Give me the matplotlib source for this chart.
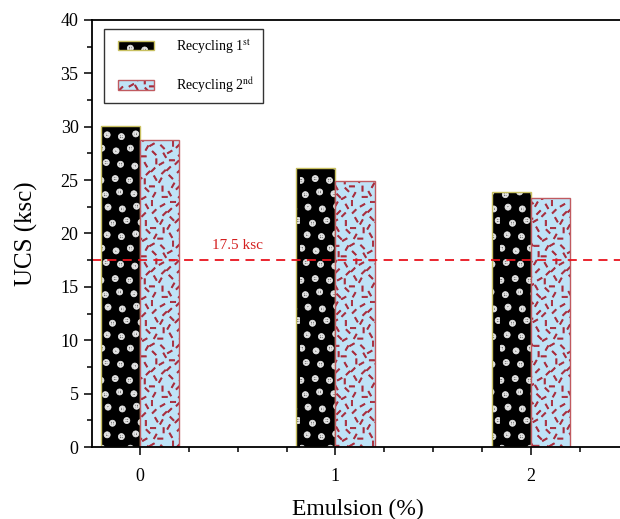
import matplotlib
matplotlib.use("Agg")
import matplotlib.pyplot as plt
import matplotlib.hatch as mhatch
from matplotlib.path import Path
from matplotlib.patches import Patch
from matplotlib.legend_handler import HandlerTuple
from matplotlib.ticker import MultipleLocator
import numpy as np

emulsion = [0, 1, 2]
recycling_1st = [30.1, 26.1, 23.9]
recycling_2nd = [28.75, 24.9, 23.3]
threshold = 17.5
xticklabels = ["0", "1", "2"]


# ---------- custom texture patterns (decoration only) ----------
def _circle_cross_tile():
    parts = []
    circ = Path.unit_circle()
    n = 7
    r = 0.03
    ri = r * 0.6
    for i in range(n):
        for j in range(n):
            cx = (i + 0.5 + (0.5 if j % 2 else 0.0)) / n + ((i * 5 + j * 3) % 5 - 2) * 0.009
            cy = (j + 0.5) / n + ((i * 3 + j * 7) % 5 - 2) * 0.009
            cx %= 1.0
            outer = circ.vertices * r + [cx, cy]
            inner = circ.vertices[::-1] * ri + [cx, cy]
            parts.append(Path(outer, circ.codes))
            parts.append(Path(inner, circ.codes))
            parts.append(Path([[cx - ri, cy], [cx + ri, cy]],
                              [Path.MOVETO, Path.LINETO]))
            parts.append(Path([[cx, cy - ri], [cx, cy + ri]],
                              [Path.MOVETO, Path.LINETO]))
    return Path.make_compound_path(*parts)


def _dash_tile():
    parts = []
    n = 12
    L = 0.026
    t = 0.006
    angles = [0.0, np.pi / 4, -np.pi / 4, np.pi / 3, -np.pi / 3, np.pi / 2, np.pi / 6]
    for i in range(n):
        for j in range(n):
            cx = (i + 0.5) / n + ((i * 7 + j * 3) % 5 - 2) * 0.011
            cy = (j + 0.5) / n + ((i * 3 + j * 5) % 5 - 2) * 0.011
            a = angles[(i * 4 + j * 5 + i * j) % len(angles)]
            ux, uy = np.cos(a), np.sin(a)
            px, py = -uy, ux
            v = [[cx - L * ux - t * px, cy - L * uy - t * py],
                 [cx + L * ux - t * px, cy + L * uy - t * py],
                 [cx + L * ux + t * px, cy + L * uy + t * py],
                 [cx - L * ux + t * px, cy - L * uy + t * py],
                 [0, 0]]
            parts.append(Path(v, [Path.MOVETO, Path.LINETO, Path.LINETO,
                                  Path.LINETO, Path.CLOSEPOLY]))
    return Path.make_compound_path(*parts)


class _TileHatch(mhatch.HatchPatternBase):
    char = None
    tile = None

    def __init__(self, hatch, density):
        self.num_vertices = len(self.tile.vertices) if self.char in hatch else 0

    def set_vertices_and_codes(self, vertices, codes):
        vertices[:] = self.tile.vertices
        codes[:] = self.tile.codes


class CircleCrossHatch(_TileHatch):
    char = 'o'
    tile = _circle_cross_tile()


class DashHatch(_TileHatch):
    char = '/'
    tile = _dash_tile()


mhatch._hatch_types[:] = [CircleCrossHatch, DashHatch]
# -----------------------------------------------------------------

plt.rcParams['font.family'] = ['Liberation Serif', 'DejaVu Serif']
plt.rcParams['mathtext.fontset'] = 'stix'
plt.rcParams['hatch.linewidth'] = 0.6

fig = plt.figure(figsize=(6.2, 5.19), dpi=100)
ax = fig.add_axes([0.148, 0.1387, 0.86, 0.8228])

x = np.array(emulsion, dtype=float)
w = 0.2
c1_face, c1_hatch, c1_edge = 'black', '#e4e4e4', '#c8c060'
c2_face, c2_hatch, c2_edge = '#bfe3f7', '#a82838', '#c05a60'

ax.bar(x - w/2, recycling_1st, w, color=c1_face, edgecolor=c1_hatch, hatch='o', linewidth=0)
ax.bar(x - w/2, recycling_1st, w, fill=False, edgecolor=c1_edge, linewidth=1)
ax.bar(x + w/2, recycling_2nd, w, color=c2_face, edgecolor=c2_hatch, hatch='/', linewidth=0)
ax.bar(x + w/2, recycling_2nd, w, fill=False, edgecolor=c2_edge, linewidth=1)

ax.axhline(threshold, color='#e8141e', linestyle=(0, (5, 3.5)), linewidth=1.3)
ax.text(0.5, threshold + 0.75, "17.5 ksc", color='#d42020', fontsize=11, ha='center', va='bottom')

ax.set_xlim(-0.2455, 2.48)
ax.set_ylim(0, 40)
ax.set_xticks(emulsion)
ax.set_xticklabels(xticklabels)
ax.xaxis.set_minor_locator(MultipleLocator(0.25))
ax.yaxis.set_major_locator(MultipleLocator(5))
ax.yaxis.set_minor_locator(MultipleLocator(2.5))
ax.tick_params(axis='both', which='major', direction='out', length=6, width=1.1, labelsize=13)
ax.tick_params(axis='both', which='minor', direction='out', length=3.5, width=1.1)
ax.tick_params(axis='x', pad=9)
ax.spines['right'].set_visible(False)
for s in ['left', 'bottom', 'top']:
    ax.spines[s].set_linewidth(1.3)

ax.set_xlabel("Emulsion (%)", fontsize=17, labelpad=10)
ax.set_ylabel("UCS (ksc)", fontsize=18, labelpad=16)

h1 = (Patch(facecolor=c1_face, edgecolor=c1_hatch, hatch='o', linewidth=0),
      Patch(fill=False, edgecolor=c1_edge, linewidth=1))
h2 = (Patch(facecolor=c2_face, edgecolor=c2_hatch, hatch='/', linewidth=0),
      Patch(fill=False, edgecolor=c2_edge, linewidth=1))
leg = ax.legend([h1, h2], [r"Recycling 1$^{\mathrm{st}}$", r"Recycling 2$^{\mathrm{nd}}$"],
                handler_map={tuple: HandlerTuple(ndivide=1, xpad=0.42)},
                loc='upper left', bbox_to_anchor=(0.0225, 0.979), fontsize=10,
                fancybox=False, edgecolor='#333333', framealpha=1,
                handlelength=3.0, handleheight=0.7, handletextpad=1.6,
                labelspacing=1.4, borderpad=0.6, borderaxespad=0)
leg.get_frame().set_linewidth(1.0)

fig.savefig("out.png", dpi=100)
